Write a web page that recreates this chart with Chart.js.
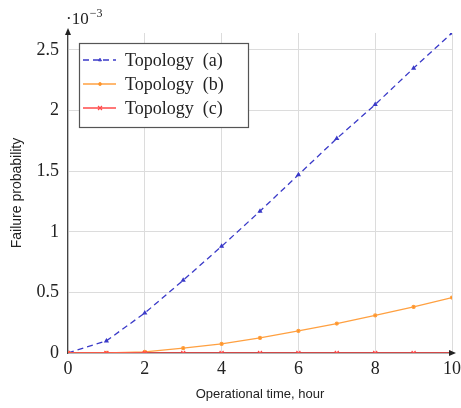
<!DOCTYPE html>
<html>
<head>
<meta charset="utf-8">
<script src="https://cdn.jsdelivr.net/npm/chart.js@4.4.0/dist/chart.umd.min.js"></script>
<style>
  html, body { margin: 0; padding: 0; background: #fff; }
  #wrap { width: 461px; height: 408px; }
</style>
</head>
<body>
<div id="wrap"><canvas id="grafico" width="461" height="408"></canvas></div>
<script>
// Datos (valores en unidades de 10^-3)
var horas     = [0, 1, 2, 3, 4, 5, 6, 7, 8, 9, 10];
var topologiaA = [0, 0.10, 0.33, 0.60, 0.88, 1.17, 1.47, 1.77, 2.05, 2.35, 2.64];
var topologiaB = [0, 0.001, 0.01, 0.04, 0.075, 0.124, 0.182, 0.243, 0.31, 0.38, 0.457];
var topologiaC = [0, 0, 0, 0, 0, 0, 0, 0, 0, 0, 0];
var nombres    = ['Topology  (a)', 'Topology  (b)', 'Topology  (c)'];
var yTicks     = [0, 0.5, 1, 1.5, 2, 2.5];

var serif = "'Liberation Serif', 'Times New Roman', serif";
var sans  = "'Liberation Sans', Arial, sans-serif";

function serie(valores) {
    return horas.map(function (h, i) { return { x: h, y: valores[i] }; });
}

var datos = {
    datasets: [{
        label: nombres[0],
        data: serie(topologiaA),
        borderColor: '#3a3ac8',
        backgroundColor: '#3a3ac8',
        borderDash: [6, 4],
        borderWidth: 1.3,
        pointStyle: 'triangle',
        pointRadius: 1.7,
        order: 3
    }, {
        label: nombres[1],
        data: serie(topologiaB),
        borderColor: '#ffa040',
        backgroundColor: '#ff9020',
        borderWidth: 1.3,
        pointStyle: 'circle',
        pointRadius: 1.5,
        order: 2
    }, {
        label: nombres[2],
        data: serie(topologiaC),
        borderColor: '#ff4a4a',
        backgroundColor: '#ff4a4a',
        borderWidth: 1.3,
        pointStyle: 'crossRot',
        pointRadius: 2.8,
        pointBorderWidth: 1.2,
        order: 1
    }]
};

// Plugin: leyenda con recuadro, flechas de los ejes y el factor 10^-3
var extras = {
    id: 'extras',
    afterDraw: function (chart) {
        var c = chart.ctx;
        var area = chart.chartArea;
        c.save();

        // flechas
        c.fillStyle = '#222';
        c.beginPath();
        c.moveTo(area.left, area.top - 5);
        c.lineTo(area.left - 3, area.top + 2);
        c.lineTo(area.left + 3, area.top + 2);
        c.closePath();
        c.fill();
        c.beginPath();
        c.moveTo(area.right + 4, area.bottom);
        c.lineTo(area.right - 3, area.bottom - 3);
        c.lineTo(area.right - 3, area.bottom + 3);
        c.closePath();
        c.fill();

        // factor de escala
        c.fillStyle = '#222';
        c.textBaseline = 'alphabetic';
        c.textAlign = 'left';
        c.font = '17px ' + serif;
        c.fillText('\u00b710', 66, 24);
        var w = c.measureText('\u00b710').width;
        c.font = '12px ' + serif;
        c.fillText('\u22123', 66 + w + 1, 17);

        // leyenda
        var lx = 79, ly = 43, lw = 169, lh = 84;
        c.fillStyle = '#fff';
        c.fillRect(lx, ly, lw, lh);
        c.strokeStyle = '#555';
        c.lineWidth = 1.2;
        c.strokeRect(lx + 0.5, ly + 0.5, lw, lh);
        var filas = [60, 84, 108];
        chart.data.datasets.forEach(function (ds, i) {
            var y = filas[i];
            c.strokeStyle = ds.borderColor;
            c.lineWidth = ds.borderWidth;
            c.setLineDash(ds.borderDash || []);
            c.beginPath();
            c.moveTo(83, y);
            c.lineTo(116, y);
            c.stroke();
            c.setLineDash([]);
            c.fillStyle = ds.backgroundColor;
            c.strokeStyle = ds.borderColor;
            c.lineWidth = ds.pointBorderWidth || 1;
            c.beginPath();
            Chart.helpers.drawPoint(c, {
                pointStyle: ds.pointStyle,
                radius: ds.pointRadius,
                borderWidth: ds.pointBorderWidth || 1,
                rotation: 0
            }, 100, y);
            c.fillStyle = '#222';
            c.font = '18px ' + serif;
            c.textBaseline = 'middle';
            c.fillText(ds.label, 125, y + 1);
        });
        c.restore();
    }
};

var grafico = new Chart(document.getElementById('grafico'), {
    type: 'line',
    data: datos,
    options: {
        responsive: false,
        animation: false,
        layout: { padding: { top: 33, right: 9, left: 0, bottom: 0 } },
        plugins: {
            legend: { display: false },
            tooltip: { enabled: false }
        },
        scales: {
            x: {
                type: 'linear',
                min: 0,
                max: 10,
                afterFit: function (s) {
                    s.height = 55;
                    s.paddingLeft = 0;
                    s.paddingRight = 0;
                },
                ticks: {
                    stepSize: 2,
                    color: '#222',
                    padding: 5,
                    font: { family: serif, size: 18 }
                },
                grid: { color: '#dcdcdc', lineWidth: 1, drawTicks: false },
                border: { color: '#444', width: 1.2 },
                title: {
                    display: true,
                    text: 'Operational time, hour',
                    color: '#222',
                    padding: { bottom: 6 },
                    font: { family: sans, size: 13 }
                }
            },
            y: {
                type: 'linear',
                min: 0,
                max: Math.max.apply(null, topologiaA),
                afterFit: function (s) {
                    s.width = 68;
                    s.paddingTop = 0;
                    s.paddingBottom = 0;
                },
                afterBuildTicks: function (s) {
                    s.ticks = yTicks.map(function (v) { return { value: v }; });
                },
                ticks: {
                    color: '#222',
                    padding: 9,
                    font: { family: serif, size: 18 },
                    callback: function (v) { return String(v); }
                },
                grid: { color: '#dcdcdc', lineWidth: 1, drawTicks: false },
                border: { color: '#444', width: 1.2 },
                title: {
                    display: true,
                    text: 'Failure probability',
                    color: '#222',
                    padding: { top: 9 },
                    font: { family: sans, size: 14 }
                }
            }
        }
    },
    plugins: [extras]
});
</script>
</body>
</html>
